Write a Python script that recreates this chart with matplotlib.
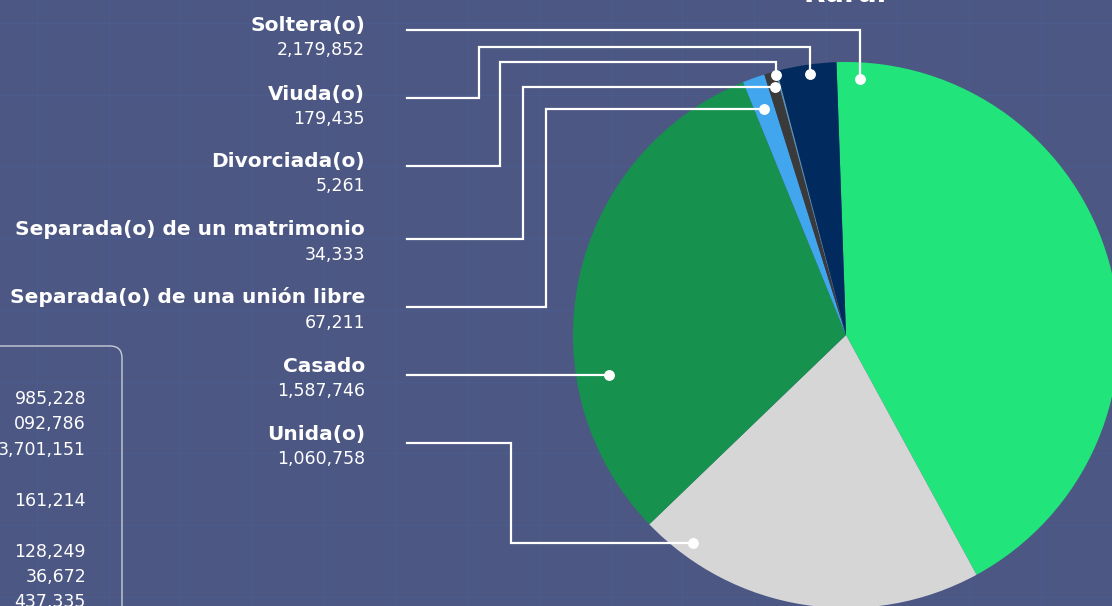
import matplotlib
matplotlib.use("Agg")
import matplotlib.pyplot as plt
import numpy as np
from matplotlib.patches import FancyBboxPatch

# estado civil, poblacion rural
labels = ["Soltera(o)", "Viuda(o)", "Divorciada(o)", "Separada(o) de un matrimonio",
          "Separada(o) de una unión libre", "Casado", "Unida(o)"]
values = [2179852, 179435, 5261, 34333, 67211, 1587746, 1060758]
colors = ["#21e57a", "#012a5e", "#5b93b5", "#3a3a3a", "#42a6ee", "#16914e", "#d6d6d6"]
# clockwise order of the wedges starting at 12 o'clock
pie_order = [0, 6, 5, 4, 3, 2, 1]

# numbers of the neighbouring panel, cut off at the left edge
side_numbers = ["985,228", "092,786", "3,701,151", "161,214", "128,249", "36,672", "437,335"]

W, H = 1112, 606
BG = "#4c5783"

fig = plt.figure(figsize=(W / 100, H / 100), dpi=100)
fig.patch.set_facecolor(BG)
ax = fig.add_axes([0, 0, 1, 1])
ax.set_facecolor(BG)

def Y(y):
    # pixel rows from top -> data y
    return H - y

# faint background grid
for gx in np.arange(37, W, 71.7):
    ax.axvline(gx, color="#4a5b8c", lw=1.0, zorder=0)
for gy in np.arange(23, H, 71.7):
    ax.axhline(Y(gy), color="#4a5b8c", lw=1.0, zorder=0)

ax.pie([values[i] for i in pie_order], colors=[colors[i] for i in pie_order],
       center=(846, Y(335)), radius=273, startangle=92, counterclock=False,
       wedgeprops=dict(linewidth=0))

# leader lines (pixel layout), same order as labels
routes = [
    [(407, 30), (860, 30), (860, 79)],
    [(407, 98), (479, 98), (479, 47), (810, 47), (810, 74)],
    [(407, 166), (500, 166), (500, 62), (776, 62), (776, 75)],
    [(407, 239), (523, 239), (523, 87), (775, 87)],
    [(407, 307), (546, 307), (546, 109), (764, 109)],
    [(407, 375), (609, 375)],
    [(407, 443), (511, 443), (511, 543), (693, 543)],
]
for r in routes:
    xs = [p[0] for p in r]
    ys = [Y(p[1]) for p in r]
    ax.plot(xs, ys, color="white", lw=1.6, solid_joinstyle="miter", zorder=5)
    ax.plot(xs[-1], ys[-1], "o", color="white", ms=6.8, zorder=6)

name_base = [30.7, 100, 166.7, 235, 303, 371.7, 440]
for lab, v, yb in zip(labels, values, name_base):
    ax.text(365, Y(yb), lab, ha="right", va="baseline", color="white",
            fontsize=14.5, fontweight="bold", family="DejaVu Sans")
    ax.text(365, Y(yb + 24.5), f"{v:,}", ha="right", va="baseline", color="white",
            fontsize=12.5, family="DejaVu Sans")

# cut off panel on the left
box = FancyBboxPatch((-60, Y(640)), 182, 640 - 346,
                     boxstyle="round,pad=0,rounding_size=12",
                     fc="none", ec="#c9ccda", lw=1.0, zorder=3)
ax.add_patch(box)
side_base = [404, 429, 455, 505.7, 556.7, 581.7, 606.7]
for s, yb in zip(side_numbers, side_base):
    ax.text(86, Y(yb), s, ha="right", va="baseline", color="white", fontsize=12.5)

# title cut off at the top
ax.text(845, Y(1.5), "Rural", ha="center", va="baseline", color="white",
        fontsize=20, fontweight="bold")

ax.set_xlim(0, W)
ax.set_ylim(0, H)
ax.set_aspect("equal")
ax.axis("off")

fig.savefig("out.png", dpi=100, facecolor=BG)
